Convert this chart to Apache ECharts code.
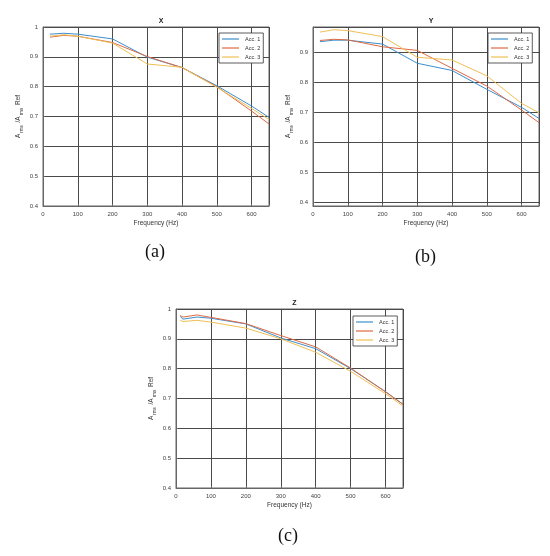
<!DOCTYPE html>
<html><head><meta charset="utf-8">
<script src="https://cdn.jsdelivr.net/npm/echarts@6/dist/echarts.min.js"></script>
<style>html,body{margin:0;padding:0;background:#fff}#c{width:550px;height:556px}</style>
</head><body><div id="c"></div>
<script>
// ---- data ----
const seriesNames = ['Acc. 1', 'Acc. 2', 'Acc. 3'];
const panelTitles = ['X', 'Y', 'Z'];
const captions = ['(a)', '(b)', '(c)'];
const xTicks = [0, 100, 200, 300, 400, 500, 600];
const yTicks = [0.4, 0.5, 0.6, 0.7, 0.8, 0.9, 1];

const freqXY = [20, 60, 100, 200, 300, 400, 500, 600, 650];
const xAcc1 = [0.976, 0.979, 0.976, 0.960, 0.899, 0.864, 0.803, 0.735, 0.697];
const xAcc2 = [0.966, 0.972, 0.969, 0.948, 0.901, 0.864, 0.800, 0.718, 0.675];
const xAcc3 = [0.969, 0.974, 0.969, 0.946, 0.876, 0.865, 0.798, 0.727, 0.690];

const yAcc1 = [0.935, 0.940, 0.940, 0.927, 0.863, 0.839, 0.776, 0.716, 0.679];
const yAcc2 = [0.939, 0.943, 0.941, 0.918, 0.906, 0.846, 0.787, 0.707, 0.665];
const yAcc3 = [0.967, 0.975, 0.972, 0.952, 0.883, 0.874, 0.821, 0.729, 0.698];

const freqZ = [12, 20, 60, 100, 200, 300, 400, 500, 600, 650];
const zAcc1 = [0.975, 0.966, 0.973, 0.969, 0.950, 0.903, 0.867, 0.800, 0.723, 0.680];
const zAcc2 = [0.978, 0.973, 0.980, 0.972, 0.951, 0.911, 0.873, 0.802, 0.722, 0.681];
const zAcc3 = [0.962, 0.958, 0.962, 0.956, 0.936, 0.900, 0.855, 0.791, 0.716, 0.675];

const xRange = [0, 650];
const yRanges = [[0.4, 1], [0.387, 0.984], [0.4, 1]];

// ---- layout ----
const colors = ['#3d8fcc', '#de6a45', '#f0bf55'];
const grids = [
  {left: 43, top: 27, width: 226, height: 179},
  {left: 313, top: 27, width: 226, height: 179},
  {left: 176, top: 309, width: 227, height: 179}
];
const panelData = [
  [freqXY, [xAcc1, xAcc2, xAcc3]],
  [freqXY, [yAcc1, yAcc2, yAcc3]],
  [freqZ, [zAcc1, zAcc2, zAcc3]]
];
const legendPos = [{left: 219, top: 33}, {left: 488, top: 33}, {left: 353, top: 316}];
const captionPos = [[156, 254], [426, 259], [289, 538]];

const font = 'Liberation Sans, Arial, sans-serif';
const near = (v, arr) => arr.some(t => Math.abs(t - v) < 1e-6);

const option = {
  backgroundColor: '#fff',
  animation: false,
  color: colors,
  title: grids.map((g, i) => ({
    text: panelTitles[i], left: g.left + g.width / 2, top: g.top - 14, textAlign: 'center',
    textStyle: {fontSize: 7, fontWeight: 'bold', color: '#222', fontFamily: font}
  })),
  legend: grids.map((g, i) => ({
    data: seriesNames, orient: 'vertical', left: legendPos[i].left, top: legendPos[i].top,
    backgroundColor: '#fff', borderColor: '#333', borderWidth: 0.8, borderRadius: 0,
    padding: [3, 3, 3, 3], itemGap: 3, itemWidth: 17, itemHeight: 1.2, icon: 'rect',
    textStyle: {fontSize: 5.5, color: '#333', fontFamily: font, padding: [0, 0, 0, 1]}
  })),
  grid: grids.map(g => Object.assign({show: true, borderColor: '#666', borderWidth: 1, backgroundColor: '#fff'}, g)),
  xAxis: grids.map((g, i) => ({
    type: 'value', gridIndex: i, min: xRange[0], max: xRange[1], interval: 100,
    name: 'Frequency (Hz)', nameLocation: 'middle', nameGap: 14,
    nameTextStyle: {fontSize: 6.5, color: '#333', fontFamily: font},
    axisLine: {show: true, onZero: false, lineStyle: {color: '#666'}},
    axisTick: {show: true, inside: true, length: 2, lineStyle: {color: '#666'}},
    axisLabel: {fontSize: 6, color: '#444', margin: 5, fontFamily: font,
      formatter: v => near(v, xTicks) ? String(Math.round(v)) : ''},
    splitLine: {show: true, lineStyle: {color: '#4a4a4a', width: 1}}
  })),
  yAxis: grids.map((g, i) => ({
    type: 'value', gridIndex: i, min: yRanges[i][0], max: yRanges[i][1],
    splitNumber: 6,
    interval: i === 1 ? undefined : 0.1,
    name: '{a|A}{s|rms}{a| /A}{s|rms}{a| Ref}', nameLocation: 'middle', nameGap: 19, nameRotate: 90,
    nameTextStyle: {color: '#333', fontFamily: font,
      rich: {a: {fontSize: 6.5, color: '#333', fontFamily: font},
             s: {fontSize: 4.5, color: '#333', fontFamily: font, padding: [6, 1, 0, 1]}}},
    axisLine: {show: true, lineStyle: {color: '#666'}},
    axisTick: {show: true, inside: true, length: 2, lineStyle: {color: '#666'}},
    axisLabel: {fontSize: 6, color: '#444', margin: 5, fontFamily: font,
      formatter: v => near(Math.round(v * 1000) / 1000, yTicks) ? String(Math.round(v * 10) / 10) : ''},
    splitLine: {show: true, lineStyle: {color: '#4a4a4a', width: 1}}
  })),
  series: [],
  graphic: captions.map((c, i) => ({
    type: 'text', left: captionPos[i][0] - 11, top: captionPos[i][1] - 11,
    style: {text: c, fontSize: 18, fill: '#111', fontFamily: 'Liberation Serif, serif'}
  }))
};

panelData.forEach(([freq, vals], p) => {
  vals.forEach((arr, k) => {
    option.series.push({
      name: seriesNames[k], type: 'line', xAxisIndex: p, yAxisIndex: p,
      showSymbol: false, symbol: 'none', lineStyle: {width: 1, color: colors[k]},
      itemStyle: {color: colors[k]},
      data: freq.map((f, j) => [f, arr[j]])
    });
  });
});

const chart = echarts.init(document.getElementById('c'), null, {renderer: 'canvas'});
chart.setOption(option);
</script>
</body></html>
